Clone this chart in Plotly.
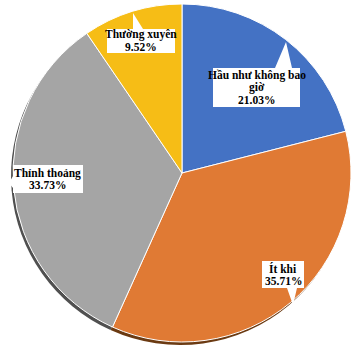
import plotly.graph_objects as go

categories = ["Hầu như không bao giờ", "Ít khi", "Thỉnh thoảng", "Thường xuyên"]
label_lines = [["Hầu như không bao", "giờ"], ["Ít khi"], ["Thỉnh thoảng"], ["Thường xuyên"]]
values = [21.03, 35.71, 33.73, 9.52]
colors = ["#4472C4", "#E07A34", "#A5A5A5", "#F6BD16"]
shadow_colors = ["#2a4a80", "#6b3a12", "#505050", "#806010"]

W, H = 355, 348
CX, CY, R = 182, 173, 169
LINE_H = 12

# callout boxes (pixel): left, top, right, bottom ; pointer triangle
boxes = [
    dict(box=(213, 68, 300, 107), ptr=[(275, 68), (286, 42), (292, 68)]),
    dict(box=(262, 261, 304, 288), ptr=[(287, 288), (293, 305), (297, 288)]),
    dict(box=(13, 165, 83, 193), ptr=[(13, 176), (9, 183), (13, 188)]),
    dict(box=(107, 29, 175, 53), ptr=[(133, 29), (133, 13), (143, 29)]),
]

def px(x):
    return x / W

def py(y):
    return 1 - y / H

def pie(vals, cols, dx=0, dy=0, line=True):
    cx, cy = CX + dx, CY + dy
    return go.Pie(
        labels=categories, values=vals, sort=False, direction="clockwise",
        rotation=0, marker=dict(colors=cols, line=dict(color="white", width=1 if line else 0)),
        textinfo="none", hoverinfo="label+percent", showlegend=False,
        domain=dict(x=[px(cx - R), px(cx + R)], y=[py(cy + R), py(cy - R)]),
    )

fig = go.Figure()
fig.add_trace(pie(values, shadow_colors, dx=-2, dy=3, line=False))
fig.add_trace(pie(values, colors))

shapes = []
annotations = []
for i, b in enumerate(boxes):
    l, t, r, btm = b["box"]
    pts = b["ptr"]
    path = (f"M {px(l)} {py(t)} L {px(r)} {py(t)} L {px(r)} {py(btm)} L {px(l)} {py(btm)} Z "
            f"M {px(pts[0][0])} {py(pts[0][1])} L {px(pts[1][0])} {py(pts[1][1])} L {px(pts[2][0])} {py(pts[2][1])} Z")
    shapes.append(dict(type="path", path=path, xref="paper", yref="paper",
                       fillcolor="white", line=dict(width=0)))
    pct = values[i] / sum(values) * 100
    lines = label_lines[i] + [f"{pct:.2f}%"]
    n = len(lines)
    cy = (t + btm) / 2
    for k, s in enumerate(lines):
        yk = cy + (k - (n - 1) / 2) * LINE_H
        annotations.append(dict(
            x=px((l + r) / 2), y=py(yk), xref="paper", yref="paper",
            text=f"<b>{s}</b>", showarrow=False,
            font=dict(family="Liberation Serif", size=11.5, color="black"),
            xanchor="center", yanchor="middle", align="center",
        ))

fig.update_layout(
    width=W, height=H, margin=dict(l=0, r=0, t=0, b=0),
    paper_bgcolor="white", plot_bgcolor="white",
    shapes=shapes, annotations=annotations,
)
fig.write_html("out.html", config={"displayModeBar": False},
               post_script="document.body.style.margin='0';")
